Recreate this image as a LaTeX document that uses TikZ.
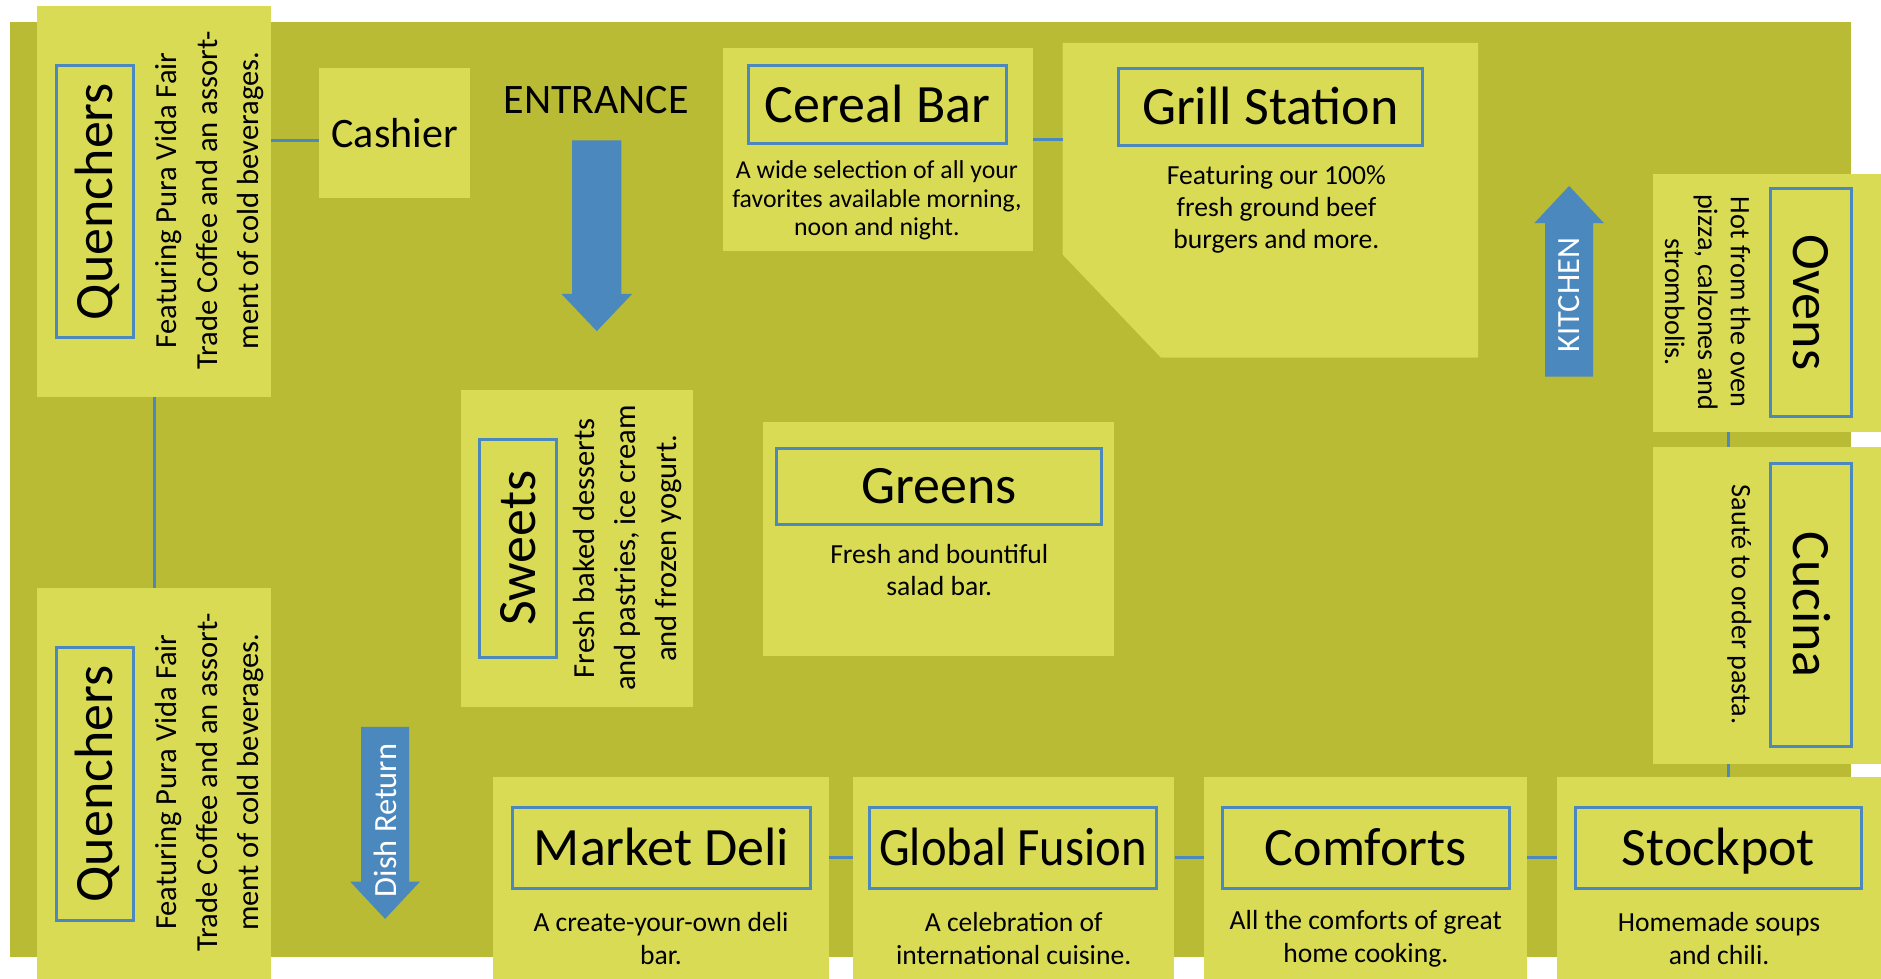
\documentclass[tikz,border=0pt]{standalone}
\usepackage{fontspec}
\setmainfont{Carlito}
\definecolor{bgolive}{HTML}{B8BB33}
\definecolor{lightyel}{HTML}{D9DB55}
\definecolor{blueline}{HTML}{4A88BE}
\tikzset{
  lbox/.style={fill=lightyel, draw=none, inner sep=0pt},
  tbox/.style={draw=blueline, line width=2.5pt, inner sep=0pt, text=black,
    font=\fontsize{45}{50}\selectfont, text height=29pt, text depth=0pt},
  desc/.style={inner sep=0pt, align=center, text=black, font=\fontsize{23}{27}\selectfont},
  smalldesc/.style={inner sep=0pt, align=center, text=black, font=\fontsize{21.5}{23.5}\selectfont},
  bigdesc/.style={inner sep=0pt, align=center, text=black, font=\fontsize{25.5}{34}\selectfont},
  sidedesc/.style={inner sep=0pt, align=center, text=black, font=\fontsize{23.5}{27.5}\selectfont},
  conn/.style={draw=blueline, line width=2.5pt},
  arrowfill/.style={fill=blueline},
  arrtext/.style={inner sep=0pt, text=white, font=\fontsize{27}{30}\selectfont},
  signtext/.style={inner sep=0pt, text=black, font=\fontsize{35}{40}\selectfont}
}
\begin{document}
\begin{tikzpicture}[x=1pt,y=-1pt]
\useasboundingbox (0,0) rectangle (1568,816);
\clip (0,0) rectangle (1568,816);
\fill[white] (0,0) rectangle (1568,816);
\fill[bgolive] (8,18) rectangle (1543,798);

% Quenchers (top)
\node[lbox, minimum width=195, minimum height=326] (q1) at (128.5,168) {};
\node[tbox, rotate=90, minimum width=226, minimum height=64] (q1t) at (79,168) {Quenchers};
\node[bigdesc, rotate=90] (q1d) at (174.5,167) {Featuring Pura Vida Fair\\Trade Coffee and an assort-\\ment of cold beverages.};

% Quenchers (bottom)
\node[lbox, minimum width=195, minimum height=326] (q2) at (128.5,653) {};
\node[tbox, rotate=90, minimum width=227, minimum height=64] (q2t) at (79,653.5) {Quenchers};
\node[bigdesc, rotate=90] (q2d) at (174.5,652) {Featuring Pura Vida Fair\\Trade Coffee and an assort-\\ment of cold beverages.};

% Cashier
\node[lbox, minimum width=126, minimum height=108, signtext] (cash) at (329,111) {Cashier};

% Entrance
\node[signtext] (ent) at (497,83) {ENTRANCE};
\fill[arrowfill] (477,117) -- (518,117) -- (518,245) -- (527,245) -- (497.5,276) -- (468,245) -- (477,245) -- cycle;

% Cereal Bar
\node[lbox, minimum width=258, minimum height=169] (cer) at (732,124.5) {};
\node[tbox, minimum width=215, minimum height=65] (cert) at (731.5,87.5) {Cereal Bar};
\node[smalldesc] (cerd) at (731,167) {A wide selection of all your\\favorites available morning,\\noon and night.};

% Grill Station
\node[inner sep=0pt, minimum width=346, minimum height=262] (grill) at (1059,167) {};
\fill[lightyel] (grill.north west) -- (grill.north east) -- (grill.south east) -- ([xshift=82pt]grill.south west) -- ([yshift=86pt]grill.south west) -- cycle;
\node[tbox, minimum width=254, minimum height=64] (grillt) at (1059,89) {Grill Station};
\node[desc] (grilld) at (1064,174.5) {Featuring our 100\%\\fresh ground beef\\burgers and more.};

% Kitchen arrow
\fill[arrowfill] (1288,314) -- (1328,314) -- (1328,186) -- (1337,186) -- (1308,155) -- (1279,186) -- (1288,186) -- cycle;
\node[arrtext, rotate=90] (kit) at (1308,246) {KITCHEN};

% Ovens
\node[lbox, minimum width=190, minimum height=215] (ov) at (1473,252.5) {};
\node[tbox, rotate=-90, minimum width=190, minimum height=67] (ovt) at (1509.5,252) {Ovens};
\node[sidedesc, rotate=-90] (ovd) at (1423.5,252) {Hot from the oven\\pizza, calzones and\\strombolis.};

% Cucina
\node[lbox, minimum width=190, minimum height=264] (cu) at (1473,505) {};
\node[tbox, rotate=-90, minimum width=236, minimum height=67] (cut) at (1509.5,504) {Cucina};
\node[sidedesc, rotate=-90] (cud) at (1450,504) {Saut\'e to order pasta.};

% Sweets
\node[lbox, minimum width=194, minimum height=264] (sw) at (481,457) {};
\node[tbox, rotate=90, minimum width=182, minimum height=64] (swt) at (432,457) {Sweets};
\node[bigdesc, rotate=90] (swd) at (523,457) {Fresh baked desserts\\and pastries, ice cream\\and frozen yogurt.};

% Greens
\node[lbox, minimum width=293, minimum height=195] (gr) at (782.5,449.5) {};
\node[tbox, minimum width=271, minimum height=63] (grt) at (782.5,405.5) {Greens};
\node[desc] (grd) at (783,475) {Fresh and bountiful\\salad bar.};

% Dish return arrow
\fill[arrowfill] (301,606) -- (341,606) -- (341,735) -- (350,735) -- (321,766) -- (292,735) -- (301,735) -- cycle;
\node[arrtext, rotate=90] (dish) at (321,684) {Dish Return};

% Bottom row
\node[lbox, minimum width=280, minimum height=168] (md) at (551,732) {};
\node[tbox, minimum width=249, minimum height=68] (mdt) at (551.5,707) {Market Deli};
\node[desc] (mdd) at (551,782.5) {A create-your-own deli\\bar.};

\node[lbox, minimum width=268, minimum height=168] (gf) at (845,732) {};
\node[tbox, minimum width=239, minimum height=68] (gft) at (844.5,707) {\scalebox{0.9}[1]{Global Fusion}};
\node[desc] (gfd) at (845,782.5) {A celebration of\\international cuisine.};

\node[lbox, minimum width=269, minimum height=168] (cf) at (1138.5,732) {};
\node[tbox, minimum width=239, minimum height=68] (cft) at (1138.5,707) {Comforts};
\node[desc] (cfd) at (1138.5,782.5) {All the comforts of great\\home cooking.};

\node[lbox, minimum width=270, minimum height=168] (sp) at (1433,732) {};
\node[tbox, minimum width=239, minimum height=68] (spt) at (1432.5,707) {Stockpot};
\node[desc] (spd) at (1433,782.5) {Homemade soups\\and chili.};

% Connectors
\draw[conn] (q1.south) -- (q2.north);
\draw[conn] ([yshift=-6pt]cash.west) -- ([yshift=-6pt]cash.west -| q1.east);
\draw[conn] ([yshift=8.5pt]cer.east) -- ([yshift=8.5pt]cer.east -| grill.west);
\draw[conn] ([xshift=-32pt]ov.south) -- ([xshift=-32pt]cu.north);
\draw[conn] ([xshift=-32pt]cu.south) -- ([xshift=-32pt]cu.south |- sp.north);
\draw[conn] ([yshift=17pt]md.east) -- ([yshift=17pt]gf.west);
\draw[conn] ([yshift=17pt]gf.east) -- ([yshift=17pt]cf.west);
\draw[conn] ([yshift=17pt]cf.east) -- ([yshift=17pt]sp.west);
\end{tikzpicture}
\end{document}
